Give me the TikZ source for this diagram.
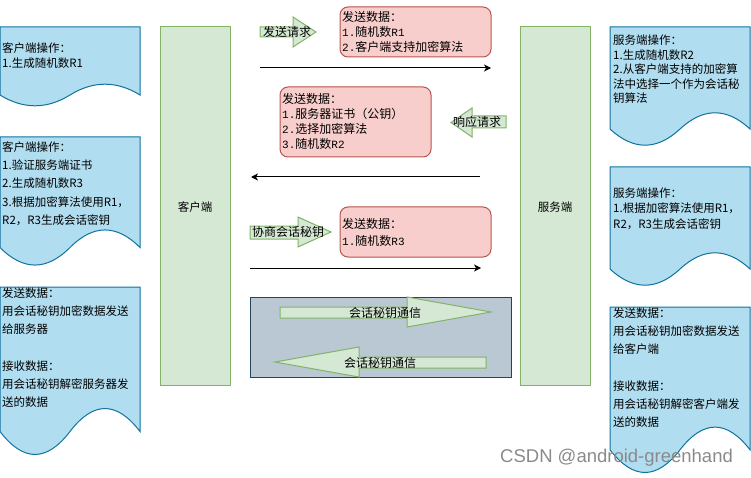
\documentclass[tikz,border=0pt]{standalone}
\usepackage{fontspec}
\setmainfont{Noto Sans CJK SC}
\newfontfamily\monof[Scale=0.92]{Liberation Mono}
\newfontfamily\wmfont{Liberation Sans}
\usetikzlibrary{arrows.meta}
\definecolor{docfill}{HTML}{B1DDF0}
\definecolor{docline}{HTML}{10739E}
\definecolor{gfill}{HTML}{D5E8D4}
\definecolor{gline}{HTML}{82B366}
\definecolor{rfill}{HTML}{F8CECC}
\definecolor{rline}{HTML}{B85450}
\definecolor{bfill}{HTML}{BAC8D3}
\definecolor{bline}{HTML}{23445D}
\definecolor{wmgray}{HTML}{8A8A8A}
\newcommand\mo[1]{{\monof #1}}
\newcommand\drawdoc[3]{% x0, top, height
  \pgfmathsetmacro\docE{#2+0.85*#3}
  \pgfmathsetmacro\docU{#2+0.67*#3}
  \pgfmathsetmacro\docD{#2+1.03*#3}
  \draw[docstyle] (#1,#2) -- (#1+140,#2) -- (#1+140,\docE)
    .. controls (#1+116.67,\docU) and (#1+93.33,\docU) .. (#1+70,\docE)
    .. controls (#1+46.67,\docD) and (#1+23.33,\docD) .. (#1,\docE) -- cycle;
}
\tikzset{
  docstyle/.style={draw=docline, fill=docfill, line width=1pt},
  sidebox/.style={draw=gline, fill=gfill, line width=1pt},
  blockarrow/.style={draw=gline, fill=gfill, line width=1pt, line join=miter},
  redbox/.style={draw=rline, fill=rfill, line width=1pt, rounded corners=8pt},
  graybox/.style={draw=bline, fill=bfill, line width=1pt},
  txt/.style={anchor=north west, inner sep=0pt, align=left, font=\fontsize{11.5}{#1}\selectfont},
  rtxt/.style={anchor=north west, inner sep=0pt, align=left, font=\fontsize{12}{#1}\selectfont},
  lbl/.style={inner sep=0pt, font=\fontsize{12}{14}\selectfont},
  msg/.style={line width=1pt, -{Stealth[length=7pt,width=7pt,inset=2pt]}},
}
\begin{document}
\begin{tikzpicture}[x=1pt,y=-1pt]
\useasboundingbox (0,0) rectangle (751,478);

% client / server columns
\draw[sidebox] (160,27) rectangle (230,385);
\draw[sidebox] (520,27) rectangle (590,385);
\node[inner sep=0pt, font=\fontsize{11.5}{13}\selectfont] (client) at (195,207) {客户端};
\node[inner sep=0pt, font=\fontsize{11.5}{13}\selectfont] (server) at (555,207) {服务端};

% left documents
\drawdoc{0}{27}{80}
\drawdoc{0}{137}{130}
\drawdoc{0}{287}{170}
% right documents
\drawdoc{610}{27}{120}
\drawdoc{610}{167}{120}
\drawdoc{610}{307}{168}

\node[txt=15] (l1) at (2,42.5) {客户端操作：\\1.生成随机数R1};
\node[txt=18.2] (l2) at (2,141.5) {客户端操作：\\1.验证服务端证书\\2.生成随机数R3\\3.根据加密算法使用R1，\\R2，R3生成会话密钥};
\node[txt=18.2] (l3) at (2,287.5) {发送数据：\\用会话秘钥加密数据发送\\给服务器\\\mbox{}\\接收数据：\\用会话秘钥解密服务器发\\送的数据};

\node[txt=14.5] (r1) at (613,35) {服务端操作：\\1.生成随机数R2\\2.从客户端支持的加密算\\法中选择一个作为会话秘\\钥算法};
\node[txt=15.5] (r2) at (613,187.5) {服务端操作：\\1.根据加密算法使用R1，\\R2，R3生成会话密钥};
\node[txt=18.2] (r3) at (613,307.5) {发送数据：\\用会话秘钥加密数据发送\\给客户端\\\mbox{}\\接收数据：\\用会话秘钥解密客户端发\\送的数据};

% red message boxes
\draw[redbox] (340,7) rectangle (491,57);
\draw[redbox] (280,87) rectangle (431,157);
\draw[redbox] (340,207) rectangle (491,257);
\node[rtxt=15] (m1) at (342,11) {发送数据：\\\mo{1.}随机数\mo{R1}\\\mo{2.}客户端支持加密算法};
\node[rtxt=15] (m2) at (282,93) {发送数据：\\\mo{1.}服务器证书（公钥）\\\mo{2.}选择加密算法\\\mo{3.}随机数\mo{R2}};
\node[rtxt=17] (m3) at (342,218) {发送数据：\\\mo{1.}随机数\mo{R3}};

% green block arrows
\draw[blockarrow] (260,27) -- (293,27) -- (293,17) -- (316,32) -- (293,47) -- (293,37) -- (260,37) -- cycle;
\node[lbl] (a1) at (287,32) {发送请求};
\draw[blockarrow] (506,116) -- (472,116) -- (472,108) -- (451,122.5) -- (472,137) -- (472,128) -- (506,128) -- cycle;
\node[lbl] (a2) at (477,122) {响应请求};
\draw[blockarrow] (250,226) -- (298,226) -- (298,217) -- (331,232) -- (298,247) -- (298,239) -- (250,239) -- cycle;
\node[lbl] (a3) at (288,232) {协商会话秘钥};

% message lines
\coordinate (s1) at (260,68);
\coordinate (e1) at (491,68);
\coordinate (s2) at (480,177);
\coordinate (e2) at (251,177);
\coordinate (s3) at (250,268);
\coordinate (e3) at (481,268);
\draw[msg] (s1) -- (e1);
\draw[msg] (s2) -- (e2);
\draw[msg] (s3) -- (e3);

% session communication
\draw[graybox] (250,297) rectangle (511,377);
\draw[blockarrow] (280,307) -- (407,307) -- (407,297) -- (491,312) -- (407,327) -- (407,318) -- (280,318) -- cycle;
\node[lbl] (c1) at (385,312.5) {会话秘钥通信};
\draw[blockarrow] (486,357) -- (359,357) -- (359,347) -- (275,362) -- (359,377) -- (359,368) -- (486,368) -- cycle;
\node[lbl] (c2) at (380,362.5) {会话秘钥通信};

% watermark
\node[anchor=west, inner sep=0pt, text=wmgray, font=\wmfont\fontsize{18.5}{20}\selectfont] (wm) at (500,458) {CSDN @android-greenhand};
\end{tikzpicture}
\end{document}
